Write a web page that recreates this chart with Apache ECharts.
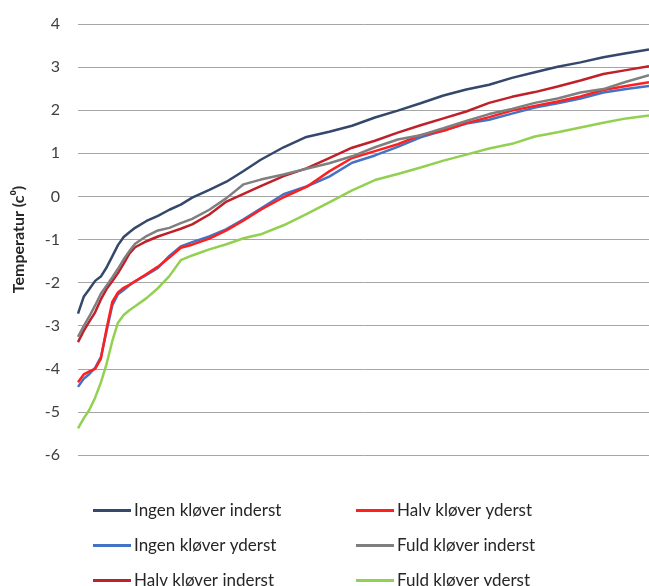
<!DOCTYPE html>
<html>
<head>
<meta charset="utf-8">
<script src="https://cdn.jsdelivr.net/npm/echarts@6/dist/echarts.min.js"></script>
<style>
html,body{margin:0;padding:0;background:#fff;}
#c{width:649px;height:586px;}
</style>
</head>
<body>
<div id="c"></div>
<script>
// share of time (%) along the x axis (no labels shown)
var xShare = [0,1,2,3,4,5,6,7,8,9,10,12,14,16,18,20,23,26,29,32,36,40,44,48,52,56,60,64,68,72,76,80,84,88,92,96,100];

var seriesNames = ['Ingen kløver inderst','Ingen kløver yderst','Halv kløver inderst','Halv kløver yderst','Fuld kløver inderst','Fuld kløver yderst'];

var ingenInderst = [-2.72,-2.33,-2.15,-1.96,-1.86,-1.65,-1.39,-1.13,-0.94,-0.83,-0.73,-0.57,-0.45,-0.31,-0.19,-0.03,0.15,0.34,0.59,0.85,1.14,1.38,1.50,1.64,1.83,1.99,2.16,2.34,2.48,2.59,2.75,2.88,3.01,3.11,3.23,3.32,3.41];
var ingenYderst = [-4.42,-4.23,-4.12,-3.98,-3.73,-3.13,-2.53,-2.27,-2.17,-2.06,-1.97,-1.82,-1.66,-1.38,-1.16,-1.06,-0.93,-0.76,-0.53,-0.28,0.05,0.23,0.46,0.78,0.95,1.15,1.37,1.53,1.69,1.78,1.92,2.06,2.16,2.27,2.41,2.49,2.56];
var halvInderst = [-3.38,-3.12,-2.90,-2.69,-2.39,-2.15,-1.97,-1.78,-1.56,-1.33,-1.18,-1.04,-0.93,-0.84,-0.75,-0.65,-0.42,-0.12,0.06,0.24,0.47,0.65,0.89,1.13,1.29,1.48,1.65,1.81,1.97,2.17,2.31,2.42,2.55,2.69,2.84,2.93,3.02];
var halvYderst = [-4.31,-4.13,-4.06,-4.00,-3.77,-3.07,-2.45,-2.23,-2.12,-2.05,-1.97,-1.80,-1.63,-1.42,-1.19,-1.12,-0.98,-0.79,-0.56,-0.31,-0.02,0.22,0.58,0.89,1.05,1.21,1.42,1.52,1.70,1.84,1.99,2.10,2.20,2.32,2.47,2.56,2.65];
var fuldInderst = [-3.26,-3.01,-2.78,-2.53,-2.26,-2.07,-1.88,-1.68,-1.46,-1.27,-1.10,-0.92,-0.79,-0.73,-0.62,-0.52,-0.31,-0.04,0.28,0.39,0.51,0.64,0.77,0.93,1.14,1.32,1.42,1.58,1.75,1.91,2.03,2.17,2.27,2.41,2.49,2.66,2.81];
var fuldYderst = [-5.38,-5.15,-4.95,-4.67,-4.32,-3.89,-3.36,-2.93,-2.75,-2.64,-2.55,-2.36,-2.13,-1.85,-1.48,-1.37,-1.23,-1.11,-0.97,-0.88,-0.67,-0.41,-0.14,0.14,0.38,0.52,0.67,0.83,0.97,1.11,1.22,1.39,1.49,1.60,1.71,1.81,1.88];

var yTicks = {min:-6, max:4, interval:1};

var allValues = [ingenInderst, ingenYderst, halvInderst, halvYderst, fuldInderst, fuldYderst];
var colors = ['#34486b','#4472c4','#c0202a','#ff1f1f','#7f7f7f','#92d050'];

function pairs(vals){ return xShare.map(function(x,i){ return [x, vals[i]]; }); }

var series = seriesNames.map(function(n,i){
  return {
    name:n, type:'line', data:pairs(allValues[i]),
    symbol:'none', smooth:false,
    lineStyle:{color:colors[i], width:2.5},
    itemStyle:{color:colors[i]},
    z: 2+i
  };
});

var font = 'Lato, "Open Sans", sans-serif';
function legendCfg(left, names){
  return {
    orient:'vertical', left:left, top:502, height:200, padding:0,
    itemWidth:38, itemHeight:3, icon:'rect', itemGap:18,
    data:names,
    textStyle:{fontFamily:font, fontSize:17, color:'#262626', padding:[0,0,0,-2]}
  };
}

var chart = echarts.init(document.getElementById('c'), null, {renderer:'canvas'});
chart.setOption({
  animation:false,
  backgroundColor:'#fff',
  grid:{left:78, right:0, top:24, bottom:131, containLabel:false},
  xAxis:{type:'value', min:0, max:100, show:true,
    axisLine:{show:false}, axisTick:{show:false}, axisLabel:{show:false}, splitLine:{show:false}},
  yAxis:{type:'value', min:yTicks.min, max:yTicks.max, interval:yTicks.interval,
    name:'Temperatur (c⁰)', nameLocation:'middle', nameGap:51, nameRotate:90,
    nameTextStyle:{fontFamily:font, fontSize:16, fontWeight:'bold', color:'#262626'},
    axisLine:{show:false}, axisTick:{show:false},
    axisLabel:{fontFamily:font, fontSize:16, color:'#404040', margin:18},
    splitLine:{lineStyle:{color:'#a6a6a6', width:1}}},
  legend:[ legendCfg(93, seriesNames.slice(0,3)), legendCfg(356, seriesNames.slice(3,6)) ],
  series:series
});
</script>
</body>
</html>
